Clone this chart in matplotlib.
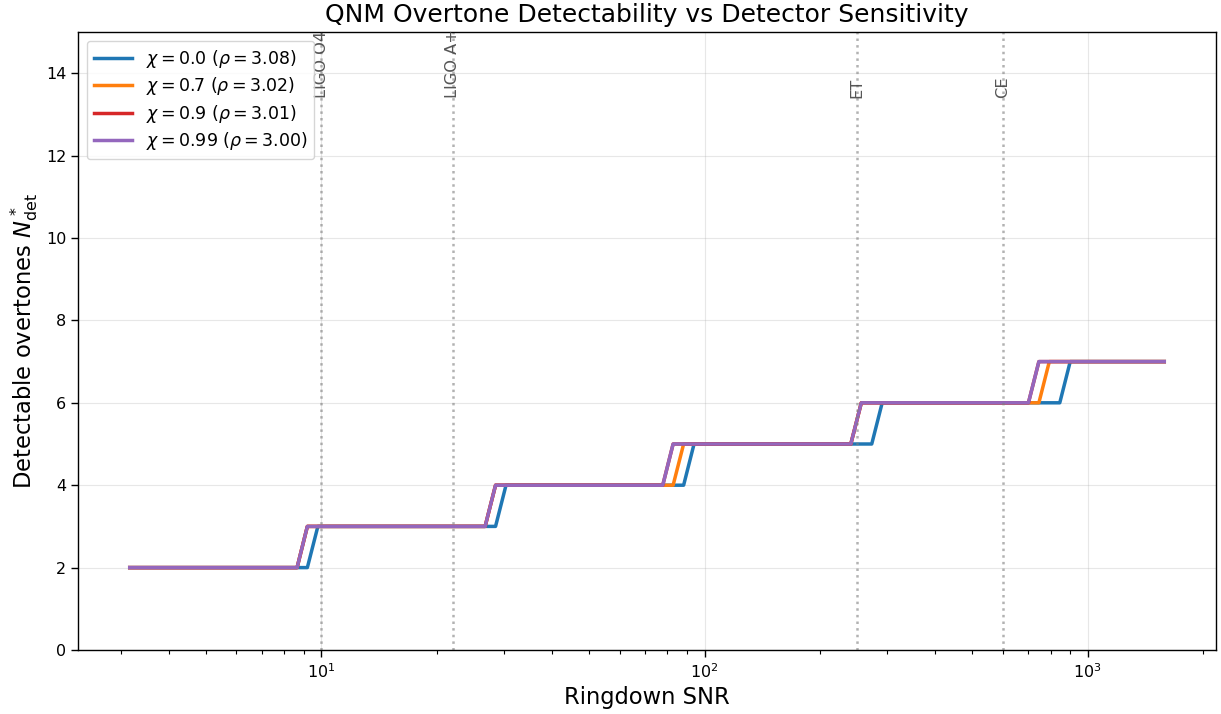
import numpy as np
import matplotlib
matplotlib.use("Agg")
import matplotlib.pyplot as plt

# step vertices (ringdown SNR, detectable overtones)
snr_chi0 = [3.16, 9.19, 9.79, 28.48, 30.33, 88.2, 93.9, 273.2, 290.9, 845.8, 900.6, 1585]
n_chi0 = [2, 2, 3, 3, 4, 4, 5, 5, 6, 6, 7, 7]
snr_chi07 = [3.16, 8.64, 9.19, 26.75, 28.48, 82.8, 88.2, 240.9, 256.6, 746.0, 794.3, 1585]
n_chi07 = [2, 2, 3, 3, 4, 4, 5, 5, 6, 6, 7, 7]
snr_chi09 = [3.16, 8.64, 9.19, 26.75, 28.48, 77.8, 82.8, 240.9, 256.6, 700.6, 746.0, 1585]
n_chi09 = [2, 2, 3, 3, 4, 4, 5, 5, 6, 6, 7, 7]
snr_chi099 = [3.16, 8.64, 9.19, 26.75, 28.48, 77.8, 82.8, 240.9, 256.6, 700.6, 746.0, 1585]
n_chi099 = [2, 2, 3, 3, 4, 4, 5, 5, 6, 6, 7, 7]

labels = [r"$\chi = 0.0$ ($\rho = 3.08$)",
          r"$\chi = 0.7$ ($\rho = 3.02$)",
          r"$\chi = 0.9$ ($\rho = 3.01$)",
          r"$\chi = 0.99$ ($\rho = 3.00$)"]

detectors = ["LIGO O4", "LIGO A+", "ET", "CE"]
detector_snr = [10, 22, 250, 600]

fig = plt.figure(figsize=(12.21, 7.14), dpi=100)
ax = fig.add_axes([78/1221, 64/714, 1138/1221, 618/714])

series = [(snr_chi0, n_chi0), (snr_chi07, n_chi07), (snr_chi09, n_chi09), (snr_chi099, n_chi099)]
colors = ["#1f77b4", "#ff7f0e", "#d62728", "#9467bd"]
for (xs, ys), c, lab in zip(series, colors, labels):
    ax.plot(xs, ys, color=c, lw=2.5, label=lab)

for name, s in zip(detectors, detector_snr):
    ax.axvline(s, color="gray", ls=":", lw=1.8, alpha=0.6)
    ax.text(s, 13.4, name, rotation=90, ha="center", va="bottom",
            fontsize=11.7, color="#444444", alpha=0.9)

ax.set_xscale("log")
ax.set_ylim(0, 15)
ax.set_xlabel("Ringdown SNR", fontsize=16.3)
ax.set_ylabel(r"Detectable overtones $N^*_{\rm det}$", fontsize=16.3)
ax.set_title("QNM Overtone Detectability vs Detector Sensitivity", fontsize=18, pad=7)
ax.tick_params(labelsize=11.5, width=1.0, length=5)
ax.tick_params(which="minor", width=0.8, length=3)
for sp in ax.spines.values():
    sp.set_linewidth(1.0)
ax.grid(True, alpha=0.3)
ax.legend(loc="upper left", fontsize=12.5, handlelength=2.2, labelspacing=0.32)

fig.savefig("out.png", dpi=100)
